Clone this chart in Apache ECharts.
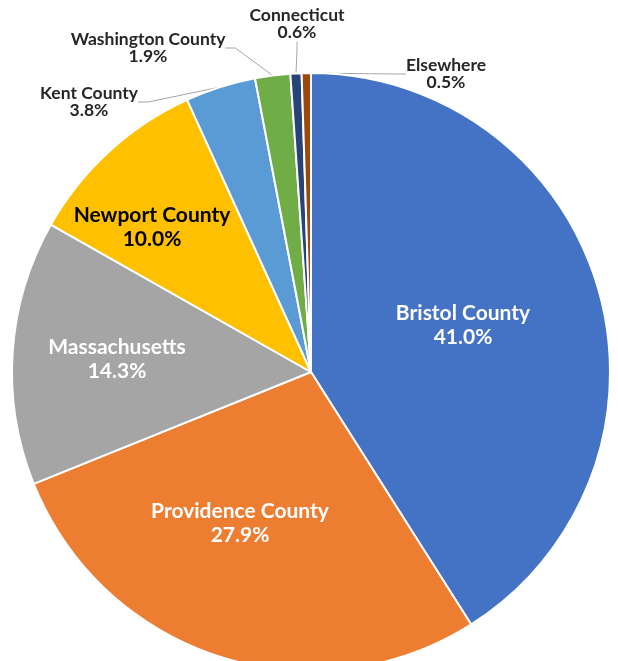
<!DOCTYPE html>
<html>
<head>
<meta charset="utf-8">
<script src="https://cdn.jsdelivr.net/npm/echarts@6/dist/echarts.min.js"></script>
<style>html,body{margin:0;padding:0;background:#fff}#c{width:618px;height:661px}</style>
</head>
<body>
<div id="c"></div>
<script>
var categories = ['Bristol County','Providence County','Massachusetts','Newport County','Kent County','Washington County','Connecticut','Elsewhere'];
var values = [41.0, 27.9, 14.3, 10.0, 3.8, 1.9, 0.6, 0.5];
var colors = ['#4472C4','#ED7D31','#A5A5A5','#FFC000','#5B9BD5','#70AD47','#264478','#9E480E'];

// label styling / placement (not data)
var labelStyle = {
  'Bristol County':   {inside:true,  color:'#fff', size:21, x:463, y:325},
  'Providence County':{inside:true,  color:'#fff', size:21, x:240, y:523},
  'Massachusetts':    {inside:true,  color:'#fff', size:21, x:117, y:359},
  'Newport County':   {inside:true,  color:'#000', size:21, x:152, y:227},
  'Kent County':      {inside:false, color:'#262626', size:17.5, x:89,  y:102},
  'Washington County':{inside:false, color:'#262626', size:17.5, x:148, y:48},
  'Connecticut':      {inside:false, color:'#262626', size:17.5, x:297, y:24},
  'Elsewhere':        {inside:false, color:'#262626', size:17.5, x:446, y:74}
};

var data = categories.map(function(n,i){
  var s = labelStyle[n];
  return {
    name:n, value:values[i],
    itemStyle:{color:colors[i]},
    label:{position: s.inside?'inside':'outside', color:s.color, fontSize:s.size, lineHeight: s.inside?24:17},
    labelLine:{show: !s.inside}
  };
});

var chart = echarts.init(document.getElementById('c'), null, {renderer:'canvas'});
chart.setOption({
  animation:false,
  series:[{
    type:'pie',
    center:[311,372],
    radius:[0,299],
    startAngle:90,
    clockwise:true,
    avoidLabelOverlap:false,
    data:data,
    itemStyle:{borderColor:'#fff', borderWidth:2},
    label:{
      show:true,
      fontFamily:'Lato, "Open Sans", sans-serif',
      fontWeight:'bold',
      align:'center',
      formatter:function(p){return p.name+'\n'+p.value.toFixed(1)+'%';}
    },
    labelLine:{show:true, length:10, length2:10, lineStyle:{color:'#A6A6A6', width:1}},
    labelLayout:function(p){
      var s = labelStyle[categories[p.dataIndex]];
      return {x:s.x, y:s.y, align:'center', verticalAlign:'middle'};
    }
  }]
});
</script>
</body>
</html>
